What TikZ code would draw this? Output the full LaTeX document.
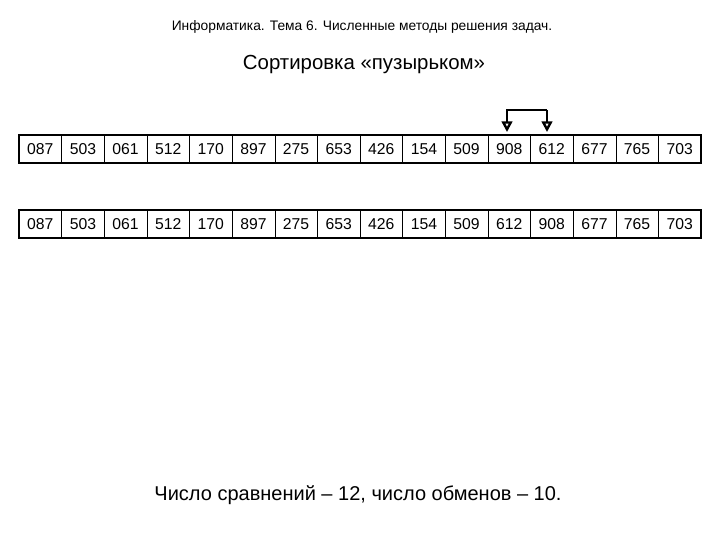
\documentclass[tikz,border=0pt]{standalone}
\usepackage{fontspec}
\setmainfont{Liberation Sans}
\usetikzlibrary{arrows.meta}
\begin{document}
\begin{tikzpicture}[x=0.75pt,y=-0.75pt,
  cell/.style={minimum width=42.625*0.75pt,minimum height=28*0.75pt,inner sep=0pt,font=\fontsize{11.8}{14}\selectfont},
  outer/.style={line width=1.5pt},
  inner/.style={line width=0.6pt},
  swap/.style={line width=1.8pt,-{Triangle[open,length=8pt,width=8pt,line width=1.8pt]}}]
\useasboundingbox (0,0) rectangle (720,540);
\node (title) at (362,27) {\fontsize{10.35}{12}\selectfont Информатика. Тема 6. Численные методы решения задач.};
\node (sub) at (364,64) {\fontsize{15.3}{18}\selectfont Сортировка «пузырьком»};
\foreach \v [count=\i] in {087,503,061,512,170,897,275,653,426,154,509,908,612,677,765,703} {
  \node[cell] (a\i) at ({19+(\i-0.5)*42.625},149) {\v};
}
\foreach \v [count=\i] in {087,503,061,512,170,897,275,653,426,154,509,612,908,677,765,703} {
  \node[cell] (b\i) at ({19+(\i-0.5)*42.625},224) {\v};
}
\foreach \r in {a,b} {
  \foreach \i in {1,...,15} {
    \draw[inner] (\r\i.north east) -- (\r\i.south east);
  }
  \draw[outer] (\r1.north west) rectangle (\r16.south east);
}
\coordinate (top1) at (507,110);
\coordinate (top2) at (547,110);
\draw[swap] (top2) -- (top2 |- 0,132);
\draw[swap] (top2) -- (top1) -- (top1 |- 0,132);
\node (foot) at (358,495) {\fontsize{15}{18}\selectfont Число сравнений -- 12, число обменов -- 10.};
\end{tikzpicture}
\end{document}
